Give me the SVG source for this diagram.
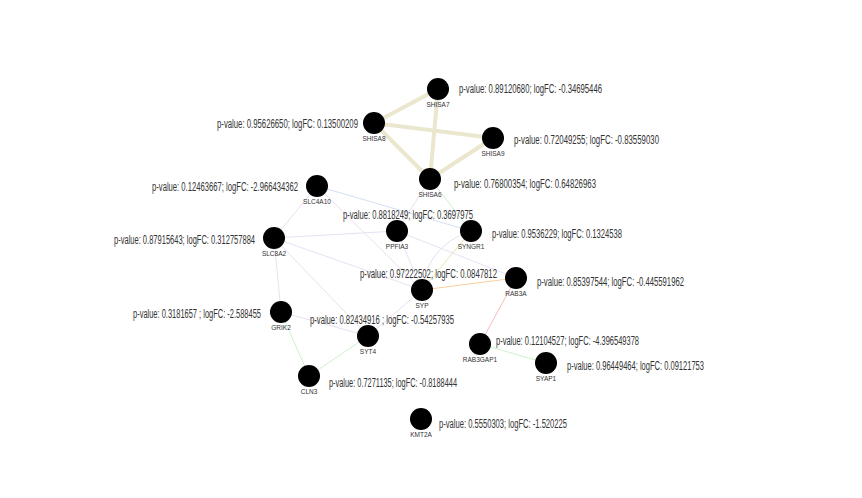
<svg xmlns="http://www.w3.org/2000/svg" width="862" height="498" viewBox="0 0 862 498">
<style>
.bg{fill:#ffffff}
.e{fill:none;stroke-width:1}
.thick{stroke:#ebe7cf;stroke-width:4}
.pu{stroke:#e8dff2}
.bl{stroke:#d3e0f2}
.gr{stroke:#cdf2cd}
.or{stroke:#f9cf9c}
.rd{stroke:#f4baba}
.kh{stroke:#e9e3b0}
.n circle{fill:#000000}
.nl{font-family:"Liberation Sans",Arial,sans-serif;font-size:6.5px;fill:#333333;text-anchor:middle}
.pl{font-family:"Liberation Sans",Arial,sans-serif;font-size:12px;fill:#333333}
</style>
<rect class="bg" x="0" y="0" width="862" height="498"/>
<g id="connectors">
<line class="e thick" x1="438" y1="89" x2="374" y2="123"/>
<line class="e thick" x1="438" y1="89" x2="430" y2="179"/>
<line class="e thick" x1="374" y1="123" x2="493" y2="138"/>
<line class="e thick" x1="374" y1="123" x2="430" y2="179"/>
<line class="e thick" x1="493" y1="138" x2="430" y2="179"/>
<line class="e gr" x1="430" y1="179" x2="471" y2="231"/>
<line class="e pu" x1="430" y1="179" x2="397" y2="231"/>
<line class="e bl" x1="317" y1="186" x2="471" y2="231"/>
<line class="e pu" x1="317" y1="186" x2="274" y2="238"/>
<line class="e pu" x1="317" y1="186" x2="422" y2="290"/>
<line class="e pu" x1="274" y1="238" x2="397" y2="231"/>
<line class="e pu" x1="274" y1="238" x2="422" y2="290"/>
<line class="e pu" x1="274" y1="238" x2="368" y2="336"/>
<line class="e pu" x1="274" y1="238" x2="281" y2="312"/>
<line class="e pu" x1="397" y1="231" x2="516" y2="278"/>
<line class="e pu" x1="397" y1="231" x2="422" y2="290"/>
<line class="e kh" x1="471" y1="231" x2="422" y2="290"/>
<path class="e pu" d="M471,231 Q428,245 422,290"/>
<line class="e or" x1="422" y1="290" x2="516" y2="278"/>
<line class="e rd" x1="516" y1="278" x2="480" y2="344"/>
<line class="e gr" x1="480" y1="344" x2="546" y2="363"/>
<line class="e pu" x1="422" y1="290" x2="368" y2="336"/>
<line class="e pu" x1="281" y1="312" x2="368" y2="336"/>
<line class="e gr" x1="281" y1="312" x2="309" y2="376"/>
<line class="e gr" x1="368" y1="336" x2="309" y2="376"/>
</g>
<g id="SHISA7" class="n"><circle cx="438" cy="89" r="11"/><text class="nl" x="438" y="107">SHISA7</text><text class="pl" x="459" y="93" textLength="143" lengthAdjust="spacingAndGlyphs">p-value: 0.89120680; logFC: -0.34695446</text></g>
<g id="SHISA8" class="n"><circle cx="374" cy="123" r="11"/><text class="nl" x="374" y="141">SHISA8</text><text class="pl" x="217" y="128" textLength="141" lengthAdjust="spacingAndGlyphs">p-value: 0.95626650; logFC: 0.13500209</text></g>
<g id="SHISA9" class="n"><circle cx="493" cy="138" r="11"/><text class="nl" x="493" y="156">SHISA9</text><text class="pl" x="514" y="144" textLength="145" lengthAdjust="spacingAndGlyphs">p-value: 0.72049255; logFC: -0.83559030</text></g>
<g id="SHISA6" class="n"><circle cx="430" cy="179" r="11"/><text class="nl" x="430" y="197">SHISA6</text><text class="pl" x="454" y="188" textLength="142" lengthAdjust="spacingAndGlyphs">p-value: 0.76800354; logFC: 0.64826963</text></g>
<g id="SLC4A10" class="n"><circle cx="317" cy="186" r="11"/><text class="nl" x="317" y="204">SLC4A10</text><text class="pl" x="152" y="191" textLength="146" lengthAdjust="spacingAndGlyphs">p-value: 0.12463667; logFC: -2.966434362</text></g>
<g id="PPFIA3" class="n"><circle cx="397" cy="231" r="11"/><text class="nl" x="397" y="249">PPFIA3</text><text class="pl" x="343" y="219" textLength="130" lengthAdjust="spacingAndGlyphs">p-value: 0.8818249; logFC: 0.3697975</text></g>
<g id="SYNGR1" class="n"><circle cx="471" cy="231" r="11"/><text class="nl" x="471" y="249">SYNGR1</text><text class="pl" x="492" y="238" textLength="130" lengthAdjust="spacingAndGlyphs">p-value: 0.9536229; logFC: 0.1324538</text></g>
<g id="SLC8A2" class="n"><circle cx="274" cy="238" r="11"/><text class="nl" x="274" y="256">SLC8A2</text><text class="pl" x="114" y="244" textLength="141" lengthAdjust="spacingAndGlyphs">p-value: 0.87915643; logFC: 0.312757884</text></g>
<g id="RAB3A" class="n"><circle cx="516" cy="278" r="11"/><text class="nl" x="516" y="296">RAB3A</text><text class="pl" x="537" y="286" textLength="147" lengthAdjust="spacingAndGlyphs">p-value: 0.85397544; logFC: -0.445591962</text></g>
<g id="SYP" class="n"><circle cx="422" cy="290" r="11"/><text class="nl" x="422" y="308">SYP</text><text class="pl" x="360" y="278" textLength="137" lengthAdjust="spacingAndGlyphs">p-value: 0.97222502; logFC: 0.0847812</text></g>
<g id="GRIK2" class="n"><circle cx="281" cy="312" r="11"/><text class="nl" x="281" y="330">GRIK2</text><text class="pl" x="133" y="318" textLength="128" lengthAdjust="spacingAndGlyphs">p-value: 0.3181657 ; logFC: -2.588455</text></g>
<g id="SYT4" class="n"><circle cx="368" cy="336" r="11"/><text class="nl" x="368" y="354">SYT4</text><text class="pl" x="310" y="324" textLength="144" lengthAdjust="spacingAndGlyphs">p-value: 0.82434916 ; logFC: -0.54257935</text></g>
<g id="RAB3GAP1" class="n"><circle cx="480" cy="344" r="11"/><text class="nl" x="480" y="362">RAB3GAP1</text><text class="pl" x="496" y="345" textLength="143" lengthAdjust="spacingAndGlyphs">p-value: 0.12104527; logFC: -4.396549378</text></g>
<g id="SYAP1" class="n"><circle cx="546" cy="363" r="11"/><text class="nl" x="546" y="381">SYAP1</text><text class="pl" x="567" y="370" textLength="137" lengthAdjust="spacingAndGlyphs">p-value: 0.96449464; logFC: 0.09121753</text></g>
<g id="CLN3" class="n"><circle cx="309" cy="376" r="11"/><text class="nl" x="309" y="394">CLN3</text><text class="pl" x="329" y="387" textLength="128" lengthAdjust="spacingAndGlyphs">p-value: 0.7271135; logFC: -0.8188444</text></g>
<g id="KMT2A" class="n"><circle cx="421" cy="419" r="11"/><text class="nl" x="421" y="437">KMT2A</text><text class="pl" x="439" y="428" textLength="128" lengthAdjust="spacingAndGlyphs">p-value: 0.5550303; logFC: -1.520225</text></g>
</svg>
